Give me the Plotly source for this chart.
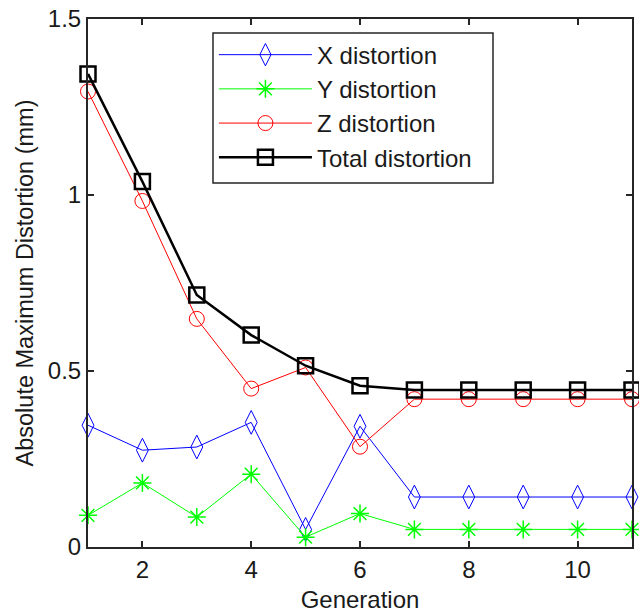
import plotly.graph_objects as go

generation = [1, 2, 3, 4, 5, 6, 7, 8, 9, 10, 11]
x_distortion = [0.346, 0.275, 0.284, 0.354, 0.05, 0.343, 0.142, 0.142, 0.142, 0.142, 0.142]
y_distortion = [0.09, 0.182, 0.085, 0.207, 0.028, 0.095, 0.05, 0.05, 0.05, 0.05, 0.05]
z_distortion = [1.294, 0.983, 0.648, 0.45, 0.51, 0.285, 0.42, 0.42, 0.42, 0.42, 0.42]
total_distortion = [1.344, 1.038, 0.716, 0.602, 0.515, 0.458, 0.446, 0.446, 0.446, 0.446, 0.446]

x_ticks = [2, 4, 6, 8, 10]
y_ticks = [0, 0.5, 1, 1.5]
y_tick_labels = ["0", "0.5", "1", "1.5"]

FONT = "Liberation Sans, Arial, sans-serif"
TXT = "#1a1a1a"
FS = 24

fig = go.Figure()
fig.add_trace(go.Scatter(
    x=generation, y=x_distortion, name="X distortion", mode="lines+markers",
    line=dict(color="#0000ff", width=1),
    marker=dict(symbol="diamond-tall-open", size=17, color="#0000ff", line=dict(width=1, color="#0000ff")),
    cliponaxis=False))
fig.add_trace(go.Scatter(
    x=generation, y=y_distortion, name="Y distortion", mode="lines+markers",
    line=dict(color="#00ff00", width=1),
    marker=dict(symbol="asterisk-open", size=15, color="#00ff00", line=dict(width=1.5, color="#00ff00")),
    cliponaxis=False))
fig.add_trace(go.Scatter(
    x=generation, y=z_distortion, name="Z distortion", mode="lines+markers",
    line=dict(color="#ff0000", width=1),
    marker=dict(symbol="circle-open", size=15, color="#ff0000", line=dict(width=1, color="#ff0000")),
    cliponaxis=False))
fig.add_trace(go.Scatter(
    x=generation, y=total_distortion, name="Total distortion", mode="lines+markers",
    line=dict(color="#000000", width=2.5),
    marker=dict(symbol="square-open", size=15, color="#000000", line=dict(width=2.5, color="#000000")),
    cliponaxis=False))

axis_common = dict(
    showgrid=False, zeroline=False, showline=True, linecolor="#262626", linewidth=2,
    mirror="allticks", ticks="inside", ticklen=6, tickwidth=1.5, tickcolor="#262626",
    tickfont=dict(family=FONT, size=FS, color=TXT), automargin=False,
    ticklabeloverflow="allow",
)

# legend frame (wider than plotly's auto-sized legend box)
fig.add_shape(
    type="rect", xref="paper", yref="paper",
    x0=(213 - 88) / 544, x1=(493 - 88) / 544,
    y0=(547 - 183) / 528, y1=(547 - 33) / 528,
    line=dict(color="#262626", width=1.5), fillcolor="white", layer="above",
)

fig.update_layout(
    width=639, height=613,
    margin=dict(l=88, r=7, t=19, b=66),
    paper_bgcolor="white", plot_bgcolor="white",
    font=dict(family=FONT, size=FS, color=TXT),
    showlegend=True,
    legend=dict(
        x=0.2315, y=0.9743, xanchor="left", yanchor="top",
        bgcolor="rgba(0,0,0,0)", borderwidth=0,
        font=dict(family=FONT, size=FS, color=TXT),
        itemwidth=93, tracegroupgap=0,
    ),
    xaxis=dict(range=[1, 11], tickvals=x_ticks,
               title=dict(text="Generation", font=dict(family=FONT, size=FS, color=TXT), standoff=19),
               **axis_common),
    yaxis=dict(range=[0, 1.5], tickvals=y_ticks, ticktext=y_tick_labels,
               title=dict(text="Absolute Maximum Distortion (mm)", font=dict(family=FONT, size=23.5, color=TXT), standoff=8),
               **axis_common),
)

fig.write_html(
    "out.html",
    config={"displayModeBar": False},
    post_script="document.body.style.margin='0';document.body.style.overflow='hidden';",
)
